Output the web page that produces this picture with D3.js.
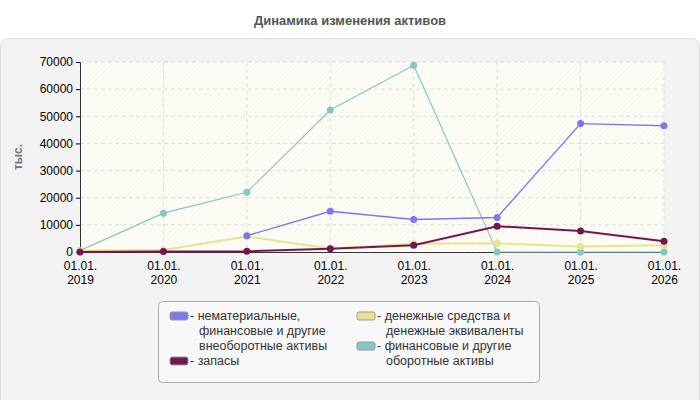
<!DOCTYPE html>
<html><head><meta charset="utf-8">
<script src="https://cdn.jsdelivr.net/npm/d3@7"></script>
<style>body{margin:0;background:#fff}text{font-family:Arial,"Liberation Sans",sans-serif}</style>
</head><body><div id="canvas"></div>
<script>
"use strict"

let years = ["2019", "2020", "2021", "2022", "2023", "2024", "2025", "2026"];
let yTicks = [0, 10000, 20000, 30000, 40000, 50000, 60000, 70000];

let intangible = [null, null, 6000, 15000, 12000, 12700, 47300, 46500];
let stocks = [0, 200, 300, 1200, 2500, 9500, 7700, 4000];
let cash = [500, 700, 5700, 1300, 3000, 3200, 2000, 2500];
let financial = [500, 14300, 22000, 52300, 68800, 0, 0, 0];

let series = [
    {name: ["- нематериальные,", "финансовые и другие", "внеоборотные активы"], values: intangible, color: "#7b78f0", lx: 170, ly: 316, w: 1.4},
    {name: ["- запасы"], values: stocks, color: "#74174f", lx: 170, ly: 361, w: 2},
    {name: ["- денежные средства и", "денежные эквиваленты"], values: cash, color: "#e6e48f", lx: 357, ly: 316, w: 2},
    {name: ["- финансовые и другие", "оборотные активы"], values: financial, color: "#88c6c6", lx: 357, ly: 346, w: 1.2}
];

let drawing = d3.select("#canvas").append("svg").attr("width", 700).attr("height", 400);

drawing.append("text").attr("x", 350).attr("y", 25).attr("text-anchor", "middle")
    .attr("font-size", 13).attr("font-weight", "bold").attr("fill", "#555")
    .text("Динамика изменения активов");

drawing.append("rect").attr("x", 0.5).attr("y", 38.5).attr("width", 699).attr("height", 370).attr("rx", 8)
    .attr("fill", "#f3f3f3").attr("stroke", "#ddd");

let defs = drawing.append("defs");
let pat = defs.append("pattern").attr("id", "hatch").attr("width", 4).attr("height", 4)
    .attr("patternUnits", "userSpaceOnUse").attr("patternTransform", "rotate(45)");
pat.append("rect").attr("width", 4).attr("height", 4).attr("fill", "#fdfdf6");
pat.append("line").attr("x1", 0).attr("y1", 0).attr("x2", 0).attr("y2", 4).attr("stroke", "#f0f0ea").attr("stroke-width", 1);

let x = d3.scalePoint().domain(years).range([80, 664]);
let y = d3.scaleLinear().domain([0, 70000]).range([252, 62]);

drawing.append("rect").attr("x", 80).attr("y", 62).attr("width", 584).attr("height", 190).attr("fill", "url(#hatch)");

// grid
drawing.append("g").selectAll("line").data(yTicks.slice(1)).join("line")
    .attr("x1", 80).attr("x2", 664).attr("y1", d => y(d)).attr("y2", d => y(d))
    .attr("stroke", "#ddd").attr("stroke-dasharray", "4,3");
drawing.append("g").selectAll("line").data(years.slice(1)).join("line")
    .attr("x1", d => x(d)).attr("x2", d => x(d)).attr("y1", 62).attr("y2", 252)
    .attr("stroke", "#ddd").attr("stroke-dasharray", "4,3");

let yAxis = drawing.append("g").attr("transform", "translate(80,0)")
    .call(d3.axisLeft(y).tickValues(yTicks).tickSize(4).tickFormat(d => d));
yAxis.selectAll("text").attr("font-size", 12).attr("fill", "#000");
yAxis.select(".domain").attr("stroke", "#333");

let xAxis = drawing.append("g").attr("transform", "translate(0,252)")
    .call(d3.axisBottom(x).tickSize(0).tickFormat(""));
xAxis.select(".domain").attr("stroke", "#333");
xAxis.selectAll(".tick").append("text").attr("y", 18).attr("text-anchor", "middle")
    .attr("font-size", 12).attr("fill", "#000")
    .selectAll("tspan").data(d => ["01.01.", d]).join("tspan")
    .attr("x", 0).attr("dy", (d, i) => i ? 14 : 0).text(d => d);

drawing.append("text").attr("transform", "translate(22,157) rotate(-90)").attr("text-anchor", "middle")
    .attr("font-size", 12).attr("font-weight", "bold").attr("fill", "#777").text("тыс.");

let line = d3.line().defined(d => d.v !== null).x(d => x(d.year)).y(d => y(d.v));
let order = [series[3], series[2], series[0], series[1]];
order.forEach(s => {
    let pts = years.map((yr, i) => ({year: yr, v: s.values[i]}));
    drawing.append("path").attr("d", line(pts)).attr("fill", "none")
        .attr("stroke", s.color).attr("stroke-width", s.w);
    drawing.append("g").selectAll("circle").data(pts.filter(p => p.v !== null)).join("circle")
        .attr("cx", p => x(p.year)).attr("cy", p => y(p.v)).attr("r", 3.5).attr("fill", s.color);
});

// legend
drawing.append("rect").attr("x", 158.5).attr("y", 301.5).attr("width", 381).attr("height", 81).attr("rx", 4)
    .attr("fill", "#f8f8f8").attr("stroke", "#aaa");
series.forEach(s => {
    drawing.append("rect").attr("x", s.lx).attr("y", s.ly - 4).attr("width", 18).attr("height", 8).attr("rx", 2)
        .attr("fill", s.color).attr("stroke", "#999");
    drawing.append("text").attr("x", s.lx + 20).attr("y", s.ly + 4).attr("font-size", 12.5).attr("fill", "#333")
        .selectAll("tspan").data(s.name).join("tspan")
        .attr("x", (d, i) => s.lx + (i ? 29 : 20)).attr("dy", (d, i) => i ? 15 : 0).text(d => d);
});
</script></body></html>
